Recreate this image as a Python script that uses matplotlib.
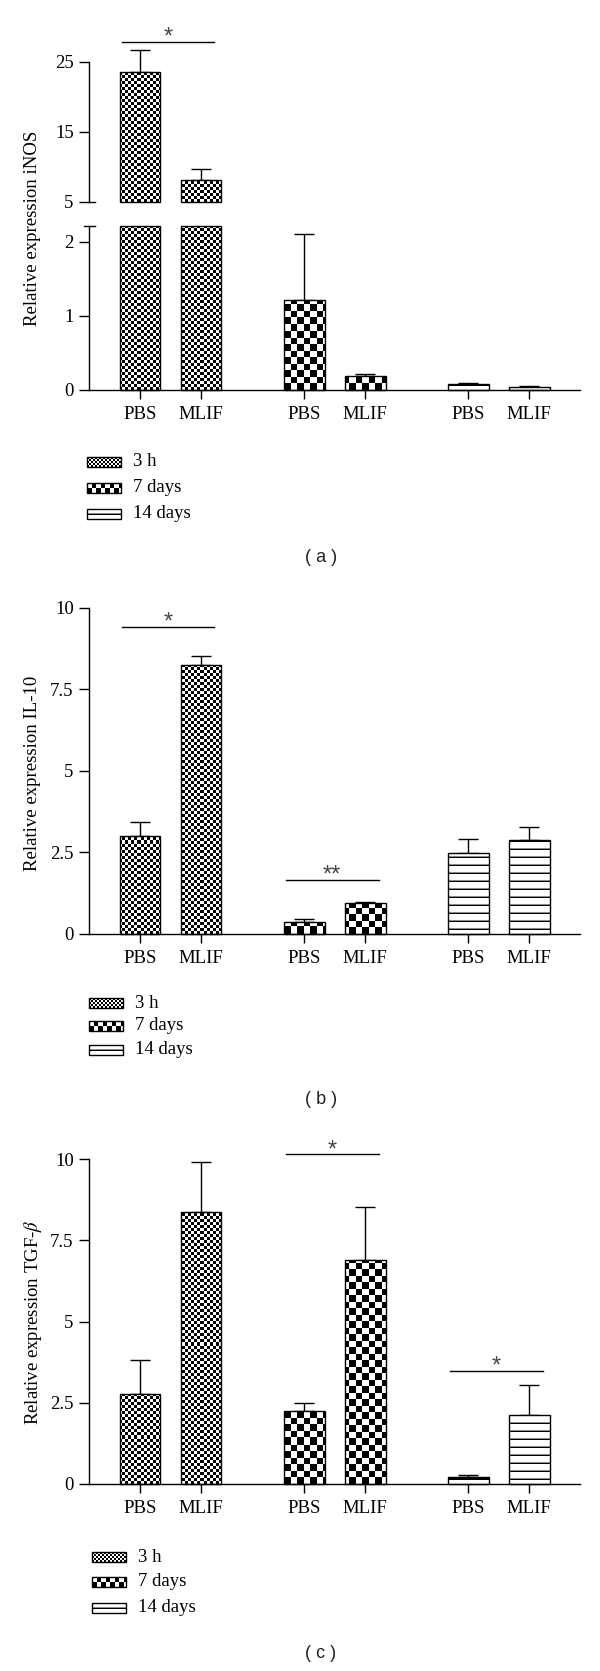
import numpy as np
import matplotlib
matplotlib.use('Agg')
import matplotlib.pyplot as plt
from matplotlib.patches import Rectangle

plt.rcParams['font.family'] = ['Liberation Serif', 'DejaVu Serif']
plt.rcParams['mathtext.fontset'] = 'stix'
plt.rcParams['font.size'] = 13

groups = ['3 h', '7 days', '14 days']
treatments = ['PBS', 'MLIF']

# order: 3h PBS, 3h MLIF, 7d PBS, 7d MLIF, 14d PBS, 14d MLIF
inos_mean = [23.6, 8.1, 1.22, 0.19, 0.08, 0.04]
inos_err = [3.1, 1.6, 0.89, 0.03, 0.02, 0.01]
il10_mean = [3.02, 8.25, 0.37, 0.95, 2.48, 2.88]
il10_err = [0.42, 0.27, 0.09, 0.03, 0.44, 0.40]
tgfb_mean = [2.77, 8.37, 2.25, 6.89, 0.22, 2.12]
tgfb_err = [1.05, 1.53, 0.25, 1.63, 0.06, 0.93]

# significance marks: (bar i, bar j, label, y level)
sig_a = [(0, 1, '*', 27.9)]
sig_b = [(0, 1, '*', 9.42), (2, 3, '**', 1.66)]
sig_c = [(2, 3, '*', 10.15), (4, 5, '*', 3.48)]

W, H = 600, 1671
group_step = 2.69
pos = np.array([g * group_step + t for g in range(len(groups)) for t in range(len(treatments))])
kinds = [g for g in range(len(groups)) for t in range(len(treatments))]
labels = [t for g in groups for t in treatments]
bar_w = 0.67
xlim = (-0.836, 7.213)
L, AW = 89 / W, 491 / W


def pattern_array(kind, w, h, cells=(3.0, 6.5)):
    yy, xx = np.mgrid[0:h, 0:w]
    if kind in (0, 1):
        c = cells[kind]
        return (np.floor(xx / c) + np.floor(yy / c)) % 2
    arr = np.ones((h, w))
    arr[yy % 8 == 4] = 0.0
    arr[yy % 8 == 5] = 0.55
    return arr


def fill_bars(ax, bars, bar_kinds):
    bb = ax.get_window_extent()
    w, h = int(round(bb.width)), int(round(bb.height))
    for bar, k in zip(bars, bar_kinds):
        im = ax.imshow(pattern_array(k, w, h), cmap='gray', vmin=0, vmax=1,
                       extent=(0, 1, 0, 1), transform=ax.transAxes, origin='lower',
                       interpolation='nearest', aspect='auto', zorder=2)
        im.set_clip_path(bar)


def draw_bars(ax, idx, bottoms, heights, means, errs, with_err=True):
    bars = ax.bar(pos[idx], heights, bar_w, bottom=bottoms, facecolor='none',
                  edgecolor='black', linewidth=1.0, zorder=3, clip_on=False)
    fill_bars(ax, bars, [kinds[i] for i in idx])
    if with_err:
        ax.errorbar(pos[idx], means, yerr=[np.zeros(len(idx)), errs], fmt='none',
                    ecolor='black', elinewidth=1.0, capsize=7, capthick=1.0,
                    zorder=1, clip_on=False)


def style_axes(ax, ylim, ybounds, yticks, yticklabels, xaxis=True):
    ax.set_xlim(*xlim)
    ax.set_ylim(*ylim)
    for s in ['top', 'right']:
        ax.spines[s].set_visible(False)
    ax.spines['left'].set_bounds(*ybounds)
    ax.spines['left'].set_linewidth(1.0)
    ax.spines['bottom'].set_linewidth(1.0)
    ax.set_yticks(yticks)
    ax.set_yticklabels(yticklabels)
    ax.tick_params(axis='y', length=7, width=1.0, pad=4, labelsize=13.5)
    if xaxis:
        ax.set_xticks(pos)
        ax.set_xticklabels(labels)
        ax.tick_params(axis='x', length=6.5, width=1.0, pad=5, labelsize=13.5)
    else:
        ax.spines['bottom'].set_visible(False)
        ax.tick_params(axis='x', bottom=False, labelbottom=False)
    ax.patch.set_visible(False)


def draw_sig(ax, sigs):
    for i, j, lab, y in sigs:
        x0, x1 = pos[i] - 0.3, pos[j] + 0.22
        ax.plot([x0, x1], [y, y], color='black', lw=1.0, clip_on=False)
        ax.annotate(lab, xy=((x0 + x1) / 2, y), xytext=(0, -1.5), textcoords='offset points',
                    ha='center', va='baseline', fontsize=17, family='Liberation Sans',
                    color='#444444', annotation_clip=False)


fig = plt.figure(figsize=(W / 100, H / 100), dpi=100)

# ---- panel (a), broken y axis ----
lower_top = 2.216
ax_up = fig.add_axes([L, 1 - 202 / H, AW, 168 / H])
ax_lo = fig.add_axes([L, 1 - 390 / H, AW, 164 / H])
means = np.array(inos_mean)
errs = np.array(inos_err)
big = [i for i in range(6) if means[i] > 5]
small = [i for i in range(6) if means[i] <= 5]
draw_bars(ax_up, big, 5, means[big] - 5, means[big], errs[big])
draw_bars(ax_lo, big, 0, np.full(len(big), lower_top), means[big], errs[big], with_err=False)
draw_bars(ax_lo, small, 0, means[small], means[small], errs[small])
style_axes(ax_up, (5, 29), (5, 25), [5, 15, 25], ['5', '15', '25'], xaxis=False)
style_axes(ax_lo, (0, lower_top), (0, lower_top), [0, 1, 2], ['0', '1', '2'])
ax_up.plot([0, 0.012], [5, 5], transform=ax_up.get_yaxis_transform(), color='black', lw=1.0, clip_on=False)
ax_lo.plot([-0.011, 0.012], [lower_top, lower_top], transform=ax_lo.get_yaxis_transform(),
           color='black', lw=1.0, clip_on=False)
draw_sig(ax_up, sig_a)

# ---- panel (b) ----
ax_b = fig.add_axes([L, 1 - 934 / H, AW, 342 / H])
draw_bars(ax_b, list(range(6)), 0, il10_mean, il10_mean, il10_err)
style_axes(ax_b, (0, 10.49), (0, 10), [0, 2.5, 5, 7.5, 10], ['0', '2.5', '5', '7.5', '10'])
draw_sig(ax_b, sig_b)

# ---- panel (c) ----
ax_c = fig.add_axes([L, 1 - 1484 / H, AW, 351 / H])
draw_bars(ax_c, list(range(6)), 0, tgfb_mean, tgfb_mean, tgfb_err)
style_axes(ax_c, (0, 10.8), (0, 10), [0, 2.5, 5, 7.5, 10], ['0', '2.5', '5', '7.5', '10'])
draw_sig(ax_c, sig_c)

# ---- overlay for y labels, legends and captions (pixel coordinates) ----
ov = fig.add_axes([0, 0, 1, 1])
ov.set_xlim(0, W)
ov.set_ylim(H, 0)
ov.axis('off')

ylabels = [('Relative expression iNOS', 228), ('Relative expression IL-10', 773),
           (r'Relative expression TGF-$\beta$', 1322)]
for text, yc in ylabels:
    ov.text(33, yc, text, rotation=90, ha='center', va='center', fontsize=13.5)

legend_spots = [(87, [462, 488, 514]), (89, [1003, 1026, 1050]), (92, [1557, 1582, 1608])]
for x0, rows in legend_spots:
    for k, (name, yc) in enumerate(zip(groups, rows)):
        rect = Rectangle((x0, yc - 5), 34, 10, facecolor='none', edgecolor='black', lw=1.0, zorder=3)
        ov.add_patch(rect)
        im = ov.imshow(pattern_array(k, 34, 10, cells=(2.0, 4.5)), cmap='gray', vmin=0, vmax=1,
                       extent=(x0, x0 + 34, yc + 5, yc - 5), origin='lower',
                       interpolation='nearest', aspect='auto', zorder=2)
        im.set_clip_path(rect)
        ov.text(x0 + 46, yc, name, ha='left', va='center', fontsize=13.5)

for cap, yc in [('( a )', 557), ('( b )', 1100), ('( c )', 1653)]:
    ov.text(321, yc, cap, ha='center', va='center', fontsize=13, family='Liberation Sans', color='#222222')
ov.set_xlim(0, W)
ov.set_ylim(H, 0)

fig.savefig('out.png', dpi=100)
